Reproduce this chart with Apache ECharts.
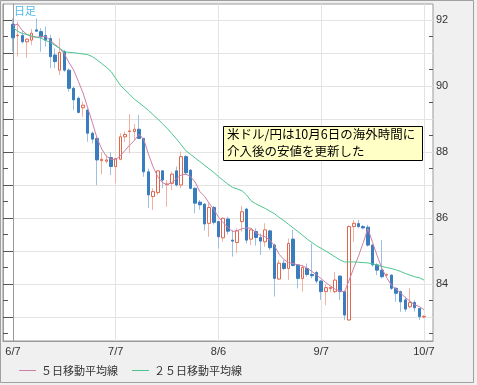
<!DOCTYPE html>
<html><head><meta charset="utf-8">
<script src="https://cdn.jsdelivr.net/npm/echarts@6/dist/echarts.min.js"></script>
<style>html,body{margin:0;padding:0;background:#fff}#c{width:477px;height:385px}</style>
</head><body><div id="c"></div>
<script>
// x-axis tick labels (trading-day index of each label)
const tickLabels = ['6/7', '7/7', '8/6', '9/7', '10/7'];
const tickIndex = [0, 22, 44, 66, 88];
// y-axis
const yLabels = [84, 86, 88, 90, 92];
const yMajor = [83, 84, 85, 86, 87, 88, 89, 90, 91, 92];
const yMinor = [82.5, 83.5, 84.5, 85.5, 86.5, 87.5, 88.5, 89.5, 90.5, 91.5];
// daily OHLC (USD/JPY)
const openV = [91.87,91.52,91.53,91.34,91.39,91.70,91.65,91.53,91.44,90.94,
 90.48,91.04,90.48,89.93,89.63,89.34,89.27,88.57,88.41,87.74,
 87.72,87.83,87.56,87.78,88.46,88.62,88.62,88.69,88.41,87.40,
 86.65,86.77,87.43,87.01,87.05,87.43,87.00,87.86,87.45,86.90,
 86.48,86.42,85.84,86.32,85.89,85.40,85.97,85.33,85.26,85.89,
 86.27,85.36,85.59,85.41,85.28,85.61,85.18,84.15,84.63,84.47,
 85.36,84.58,84.17,84.47,84.29,84.35,84.09,83.77,83.86,83.77,
 84.24,83.77,82.91,85.74,85.83,85.74,85.72,85.18,84.58,84.42,
 84.27,84.27,83.87,83.77,83.52,83.31,83.44,83.26,83.00];
const closeV = [91.46,91.54,91.34,91.42,91.60,91.66,91.49,91.39,90.89,90.74,
 91.02,90.48,89.93,89.58,89.20,89.42,88.57,88.39,87.76,87.78,
 87.76,87.56,87.80,88.46,88.53,88.64,88.69,88.41,87.40,86.70,
 86.80,87.43,87.15,87.03,87.33,87.00,87.86,87.37,86.90,86.45,
 86.40,85.82,86.32,85.87,85.43,85.99,85.60,85.30,85.61,86.19,
 85.33,85.64,85.41,85.30,85.64,85.10,84.17,84.63,84.47,85.23,
 84.56,84.17,84.50,84.29,84.25,84.09,83.77,83.89,83.90,84.12,
 83.77,83.06,85.74,85.84,85.74,85.70,85.18,84.58,84.42,84.22,
 84.29,83.87,83.72,83.46,83.24,83.44,83.28,83.01,83.02];
const highV = [92.05,91.95,91.70,91.44,91.73,92.05,91.75,91.80,91.55,91.14,
 91.44,91.09,90.53,89.98,89.68,89.53,89.32,88.62,88.46,88.00,
 87.90,88.00,87.82,88.57,88.62,89.15,88.85,89.12,88.43,87.50,
 86.90,87.45,87.45,87.15,87.40,87.56,88.01,87.91,87.48,86.93,
 86.55,86.45,86.45,86.37,85.92,86.02,86.04,85.64,85.69,86.37,
 86.31,85.69,85.69,85.53,85.84,85.64,85.23,84.73,84.73,85.38,
 85.64,84.60,84.58,84.62,85.23,84.40,84.12,83.99,83.92,84.37,
 84.26,83.80,85.78,85.94,85.94,85.79,85.79,85.20,84.63,85.33,
 84.32,84.29,83.90,83.80,83.62,83.87,83.51,83.28,83.06];
const lowV = [91.04,90.89,91.29,90.86,91.24,91.65,91.04,91.19,90.54,90.54,
 90.33,90.43,89.83,89.27,89.17,89.07,88.31,88.26,87.00,87.32,
 87.65,87.30,87.05,87.75,88.30,87.96,88.36,88.40,87.25,86.30,
 86.24,86.70,86.90,86.34,86.85,86.95,86.90,87.30,86.87,86.14,
 86.25,85.62,85.43,85.80,85.08,85.28,85.50,84.83,84.93,85.59,
 85.23,85.18,85.16,84.88,85.13,85.03,83.62,84.12,84.42,84.12,
 84.53,83.87,83.77,84.22,84.17,84.02,83.52,83.36,83.75,83.72,
 83.52,82.91,82.88,85.28,85.70,85.66,85.13,84.53,84.27,84.17,
 84.22,83.82,83.46,83.16,83.16,83.26,83.16,82.91,82.96];
// moving averages
const ma5 = [91.82,91.88,91.68,91.56,91.49,91.48,91.49,91.50,91.38,91.26,
 91.14,90.97,90.71,90.48,90.14,89.79,89.34,88.89,88.42,88.09,
 87.87,87.78,87.77,87.89,88.05,88.21,88.35,88.54,88.38,87.94,
 87.55,87.25,87.07,87.01,87.08,87.19,87.30,87.33,87.26,87.09,
 86.80,86.66,86.45,86.26,86.03,85.86,85.72,85.59,85.62,85.67,
 85.70,85.69,85.56,85.47,85.43,85.33,85.16,84.90,84.74,84.65,
 84.62,84.58,84.55,84.48,84.38,84.28,84.16,84.04,83.94,83.84,
 83.79,83.77,84.12,84.50,84.85,85.25,85.68,85.26,84.85,84.47,
 84.20,83.97,83.85,83.73,83.59,83.48,83.37,83.32,83.22];
const ma25 = [91.77,91.66,91.59,91.56,91.52,91.48,91.45,91.38,91.32,91.23,
 91.14,91.04,91.02,91.01,90.99,90.97,90.95,90.89,90.79,90.68,
 90.57,90.44,90.23,90.02,89.88,89.74,89.60,89.49,89.38,89.26,
 89.13,89.00,88.86,88.72,88.56,88.40,88.22,88.04,87.93,87.82,
 87.71,87.60,87.49,87.38,87.26,87.14,87.03,86.93,86.88,86.83,
 86.70,86.52,86.43,86.36,86.29,86.21,86.13,86.02,85.92,85.81,
 85.70,85.59,85.48,85.36,85.26,85.16,85.08,85.00,84.91,84.82,
 84.73,84.67,84.67,84.67,84.66,84.65,84.64,84.61,84.57,84.53,
 84.50,84.47,84.43,84.38,84.32,84.27,84.22,84.19,84.12];
const seriesNames = ['５日移動平均線', '２５日移動平均線'];

const wickData = openV.map((o, i) => [i, o, closeV[i], lowV[i], highV[i]]);
const bodyData = openV.map((o, i) => [i, o, closeV[i], Math.min(o, closeV[i]), Math.max(o, closeV[i])]);
const ma5Data = ma5.map((v, i) => [i, v]);
const ma25Data = ma25.map((v, i) => [i, v]);

const yMin = 82.273, yMax = 92.485;
const tickColor = '#555';
function yAx(pos, ticks, len, extra) {
  return Object.assign({
    type: 'value', position: pos, min: yMin, max: yMax, scale: true,
    axisLine: { show: false },
    axisTick: { show: true, inside: true, length: len, customValues: ticks, lineStyle: { color: tickColor } },
    axisLabel: { show: false },
    splitLine: { show: false }
  }, extra || {});
}

const chart = echarts.init(document.getElementById('c'), null, { renderer: 'canvas' });
chart.setOption({
  animation: false,
  backgroundColor: '#f0f0f0',
  grid: { left: 3, right: 44, top: 4, bottom: 44, show: true, backgroundColor: '#ffffff', borderColor: '#999', borderWidth: 1 },
  xAxis: {
    type: 'value', min: -2.14, max: 89.94,
    axisLine: { show: true, lineStyle: { color: '#999' } },
    axisTick: { show: false, customValues: tickIndex },
    axisLabel: { customValues: tickIndex, color: '#333', fontSize: 11, fontFamily: 'Liberation Sans', margin: 5,
      formatter: v => tickLabels[tickIndex.indexOf(Math.round(v))] || '' },
    splitLine: { show: true, lineStyle: { color: '#e3e3e3' } }
  },
  yAxis: [
    yAx('right', yMajor, 8, {
      axisLine: { show: true, lineStyle: { color: '#999' } },
      axisLabel: { show: true, customValues: yLabels, color: '#333', fontSize: 11, fontFamily: 'Liberation Sans', margin: 3 },
      splitLine: { show: true, lineStyle: { color: '#e3e3e3' } }
    }),
    yAx('right', yMinor, 4),
    yAx('left', yMajor, 10, { axisLine: { show: true, lineStyle: { color: '#999' } } }),
    yAx('left', yMinor, 5)
  ],
  legend: {
    left: 14, top: 360, icon: 'rect', itemWidth: 17, itemHeight: 1, itemGap: 14,
    textStyle: { fontSize: 11, color: '#333', fontFamily: 'Noto Sans CJK JP' },
    data: seriesNames
  },
  series: [
    { type: 'candlestick', name: 'wick', data: wickData, encode: { x: 0, y: [1, 2, 3, 4] }, barWidth: 1,
      itemStyle: { color: '#f1b2a2', color0: '#9dc0e2', borderColor: '#f1b2a2', borderColor0: '#9dc0e2', borderWidth: 1 } },
    { type: 'candlestick', name: 'body', data: bodyData, encode: { x: 0, y: [1, 2, 3, 4] }, barWidth: 3,
      itemStyle: { color: '#ffffff', color0: '#3a7dbf', borderColor: '#e0664c', borderColor0: '#3a7dbf', borderWidth: 1 } },
    { type: 'line', name: seriesNames[0], data: ma5Data, showSymbol: false, symbol: 'none', color: '#cf7fa6', lineStyle: { width: 1, color: '#cf7fa6' } },
    { type: 'line', name: seriesNames[1], data: ma25Data, showSymbol: false, symbol: 'none', color: '#4cc58d', lineStyle: { width: 1, color: '#4cc58d' } }
  ],
  graphic: [
    { type: 'rect', shape: { x: 0.5, y: 0.5, width: 473, height: 382 }, style: { fill: 'none', stroke: '#a0a0a0', lineWidth: 1 }, silent: true },
    { type: 'text', x: 14, y: 5, style: { text: '日足', font: '11px "Noto Sans CJK JP"', fill: '#4fb9e8' }, z: 10 },
    { type: 'rect', shape: { x: 223.5, y: 126.5, width: 199, height: 34 }, style: { fill: '#ffffc6', stroke: '#000', lineWidth: 1 }, z: 10 },
    { type: 'text', x: 227, y: 126, style: { text: '米ドル/円は10月6日の海外時間に\n介入後の安値を更新した', font: '12.5px "Noto Sans CJK JP"', fill: '#000', lineHeight: 17 }, z: 11 }
  ]
});
</script></body></html>
